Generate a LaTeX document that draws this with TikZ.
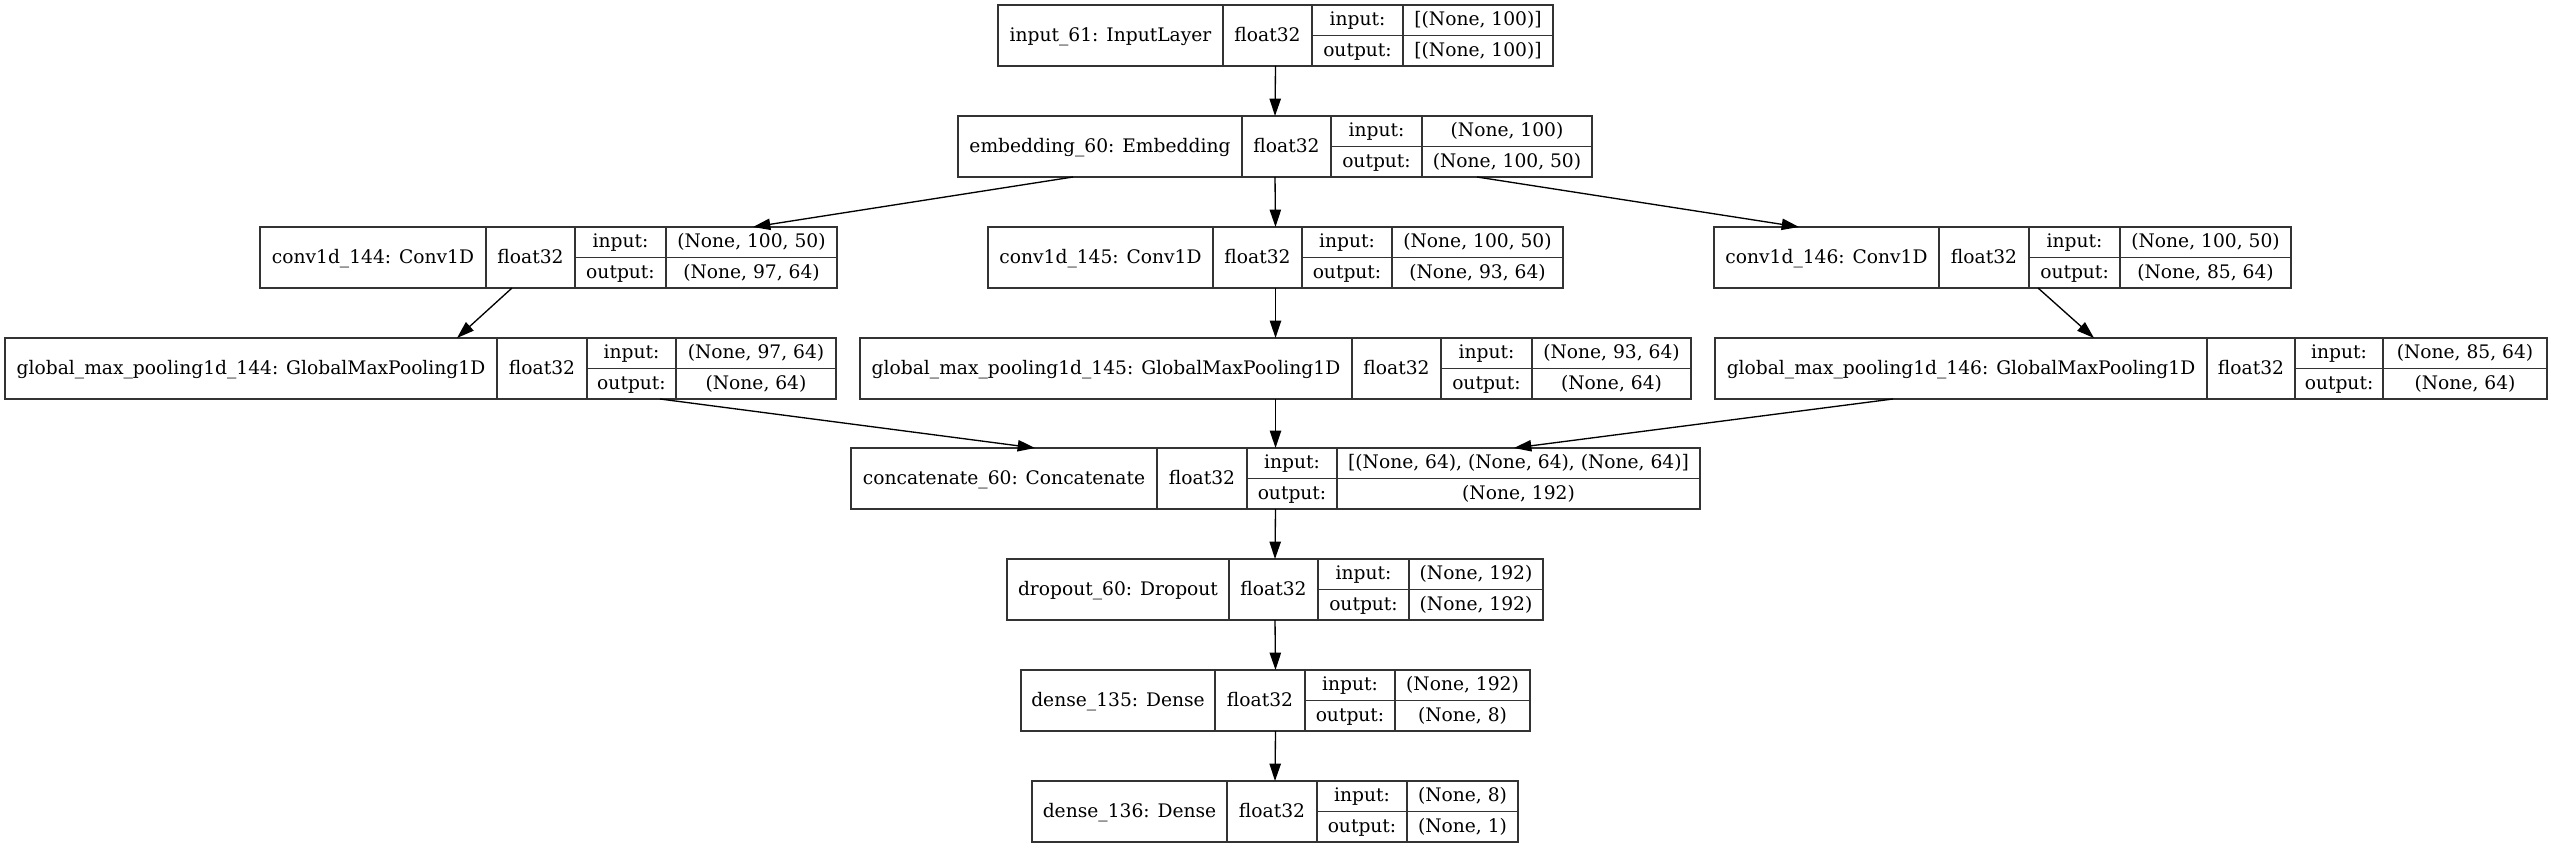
\documentclass[tikz,border=0pt]{standalone}
\usepackage{fontspec}
\setmainfont{DejaVu Serif}
\usetikzlibrary{arrows.meta,calc}
\tikzset{
  recbox/.style={rectangle, draw=black!80, line width=1pt, inner sep=0pt, outer sep=0pt},
  recline/.style={draw=black!80, line width=1pt},
  lbl/.style={inner sep=0pt, outer sep=0pt, text height=8.4pt, text depth=0pt, font=\fontsize{14pt}{17pt}\selectfont},
  edge/.style={draw=black, line width=1pt, -{Triangle[length=13pt,width=8.5pt]}},
}
\newcommand\layer[9]{%
  \def\Lname{#1}\def\Lx{#5}\def\Lr{#6}\def\Lt{#7}%
  \node[recbox, minimum width={(#6-#2)*0.75pt}, minimum height={61*0.75pt}] (#1) at ({(#2+#6)/2},{#7+30.5}) {};
  \draw[recline] (#3,#7) -- ++(0,61) (#4,#7) -- ++(0,61) (#5,#7) -- ++(0,61) (#4,{#7+30.5}) -- (#6,{#7+30.5});
  \node[lbl] (#1-l) at ({(#2+#3)/2},{#7+30.5}) {#8};
  \node[lbl] (#1-f) at ({(#3+#4)/2},{#7+30.5}) {float32};
  \node[lbl] (#1-i) at ({(#4+#5)/2},{#7+15.25}) {input:};
  \node[lbl] (#1-o) at ({(#4+#5)/2},{#7+45.75}) {output:};
  \node[lbl] (#1-iv) at ({(#5+#6)/2},{#7+15.25}) {#9};
  \layerout}
\newcommand\layerout[1]{\node[lbl] (\Lname-ov) at ({(\Lx+\Lr)/2},{\Lt+45.75}) {#1};}
\begin{document}
\begin{tikzpicture}[x=0.75pt,y=-0.75pt]
\path[fill=white, use as bounding box] (0,0) rectangle (2551,848);
\layer{inp}{998}{1223}{1312}{1403}{1553}{5}{input\_61: InputLayer}{[(None, 100)]}{[(None, 100)]}
\layer{emb}{958}{1242}{1331}{1422}{1592}{116}{embedding\_60: Embedding}{(None, 100)}{(None, 100, 50)}
\layer{c144}{260}{486}{575}{666}{837}{227}{conv1d\_144: Conv1D}{(None, 100, 50)}{(None, 97, 64)}
\layer{c145}{988}{1213}{1302}{1392}{1563}{227}{conv1d\_145: Conv1D}{(None, 100, 50)}{(None, 93, 64)}
\layer{c146}{1714}{1939}{2029}{2120}{2291}{227}{conv1d\_146: Conv1D}{(None, 100, 50)}{(None, 85, 64)}
\layer{g144}{5}{497}{587}{676}{836}{338}{global\_max\_pooling1d\_144: GlobalMaxPooling1D}{(None, 97, 64)}{(None, 64)}
\layer{g145}{860}{1352}{1441}{1532}{1691}{338}{global\_max\_pooling1d\_145: GlobalMaxPooling1D}{(None, 93, 64)}{(None, 64)}
\layer{g146}{1715}{2207}{2295}{2383}{2547}{338}{global\_max\_pooling1d\_146: GlobalMaxPooling1D}{(None, 85, 64)}{(None, 64)}
\layer{cat}{851}{1157}{1247}{1337}{1700}{448}{concatenate\_60: Concatenate}{[(None, 64), (None, 64), (None, 64)]}{(None, 192)}
\layer{drop}{1007}{1229}{1318}{1409}{1543}{559}{dropout\_60: Dropout}{(None, 192)}{(None, 192)}
\layer{d135}{1021}{1215}{1305}{1395}{1530}{670}{dense\_135: Dense}{(None, 192)}{(None, 8)}
\layer{d136}{1032}{1227}{1317}{1407}{1518}{781}{dense\_136: Dense}{(None, 8)}{(None, 1)}
\draw[edge] (inp.south) -- (emb.north);
\draw[edge] ($(emb.south)+(-202,0)$) -- ($(c144.north)+(204.5,0)$);
\draw[edge] (emb.south) -- (c145.north);
\draw[edge] ($(emb.south)+(202,0)$) -- ($(c146.north)+(-203.5,0)$);
\draw[edge] ($(c144.south)+(-36.5,0)$) -- ($(g144.north)+(36.5,0)$);
\draw[edge] (c145.south) -- (g145.north);
\draw[edge] ($(c146.south)+(35.5,0)$) -- ($(g146.north)+(-37,0)$);
\draw[edge] ($(g144.south)+(239.5,0)$) -- ($(cat.north)+(-240.5,0)$);
\draw[edge] (g145.south) -- (cat.north);
\draw[edge] ($(g146.south)+(-238,0)$) -- ($(cat.north)+(238.5,0)$);
\draw[edge] (cat.south) -- (drop.north);
\draw[edge] (drop.south) -- (d135.north);
\draw[edge] (d135.south) -- (d136.north);
\end{tikzpicture}
\end{document}
